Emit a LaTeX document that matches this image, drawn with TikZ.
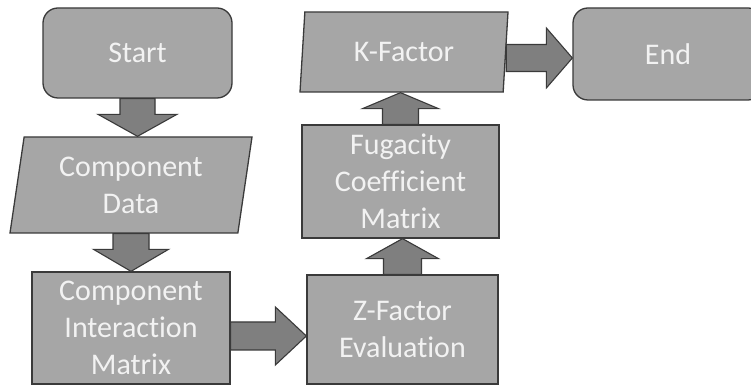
\documentclass[tikz,border=0pt]{standalone}
\usepackage{fontspec}
\setmainfont[Ligatures=NoCommon]{Carlito}
\usepackage{tikz}
\usepackage{xcolor}
\usetikzlibrary{shapes.geometric, calc}

\definecolor{boxgray}{HTML}{A6A6A6}
\definecolor{arrowgray}{HTML}{7F7F7F}
\definecolor{edgegray}{HTML}{3A3A3A}
\definecolor{labelwhite}{HTML}{F2F2F2}

\begin{document}
\begin{tikzpicture}[x=1pt, y=1pt,
    every node/.style={text=labelwhite, font=\fontsize{30}{37}\selectfont, align=center},
    procbox/.style={rectangle, draw=edgegray, line width=1.3pt, fill=boxgray, inner sep=0pt},
    termbox/.style={procbox, rounded corners=15pt},
    databox/.style={procbox, trapezium, trapezium left angle=76, trapezium right angle=104, trapezium stretches body=true},
    fatarrow/.style={draw=edgegray, line width=1.1pt, fill=arrowgray, line join=miter}]

    % Page frame
    \fill[white] (0,0) rectangle (751,387);
    \useasboundingbox (0,0) rectangle (751,387);

    % Left column
    \node[termbox, minimum width=189pt, minimum height=90pt] (start) at (137.5,334) {Start};
    \node[databox, minimum width=242pt, minimum height=96pt] (data) at (131,202) {Component\\Data};
    \node[procbox, minimum width=198pt, minimum height=112pt] (cim) at (131,59) {Component\\Interaction\\Matrix};

    % Middle column
    \node[procbox, minimum width=191pt, minimum height=109pt] (zf) at (402.5,57.5) {Z-Factor\\Evaluation};
    \node[procbox, minimum width=197pt, minimum height=113pt] (fug) at (400.5,205.5) {Fugacity\\Coefficient\\Matrix};
    \node[databox, minimum width=208pt, minimum height=80pt] (kf) at (404,335) {K-Factor};

    % End box, runs off the right edge
    \node[termbox, minimum width=190pt, minimum height=92pt] (end) at (668,333) {End};

    % Block arrows
    \draw[fatarrow] let \p1=(start.south), \p2=(data.north) in
        (\x1-17.5,\y1) -- (\x1-17.5,\y2+22) -- (\x1-39.5,\y2+22) -- (\x1,\y2)
        -- (\x1+39.5,\y2+22) -- (\x1+17.5,\y2+22) -- (\x1+17.5,\y1) -- cycle;
    \draw[fatarrow] let \p1=(data.south), \p2=(cim.north) in
        (\x1-18,\y1) -- (\x1-18,\y2+22) -- (\x1-37.5,\y2+22) -- (\x1,\y2)
        -- (\x1+37.5,\y2+22) -- (\x1+18,\y2+22) -- (\x1+18,\y1) -- cycle;
    \draw[fatarrow] let \p1=(cim.east), \p2=(zf.west) in
        (\x1,\y1-22) -- (\x2-31,\y1-22) -- (\x2-31,\y1-37) -- (\x2,\y1-8)
        -- (\x2-31,\y1+21) -- (\x2-31,\y1+6) -- (\x1,\y1+6) -- cycle;
    \draw[fatarrow] let \p1=(zf.north), \p2=(fug.south) in
        (\x1-19,\y1) -- (\x1-19,\y2-20) -- (\x1-36,\y2-20) -- (\x1,\y2)
        -- (\x1+36,\y2-20) -- (\x1+19,\y2-20) -- (\x1+19,\y1) -- cycle;
    \draw[fatarrow] let \p1=(fug.north), \p2=(kf.south) in
        (\x1-18,\y1) -- (\x1-18,\y2-16) -- (\x1-38,\y2-16) -- (\x1,\y2)
        -- (\x1+38,\y2-16) -- (\x1+18,\y2-16) -- (\x1+18,\y1) -- cycle;
    \draw[fatarrow] let \p1=(kf.east), \p2=(end.west) in
        (\x1,\y1-19.5) -- (\x2-26,\y1-19.5) -- (\x2-26,\y1-36) -- (\x2,\y1-6)
        -- (\x2-26,\y1+24) -- (\x2-26,\y1+7.5) -- (\x1,\y1+7.5) -- cycle;

\end{tikzpicture}
\end{document}
